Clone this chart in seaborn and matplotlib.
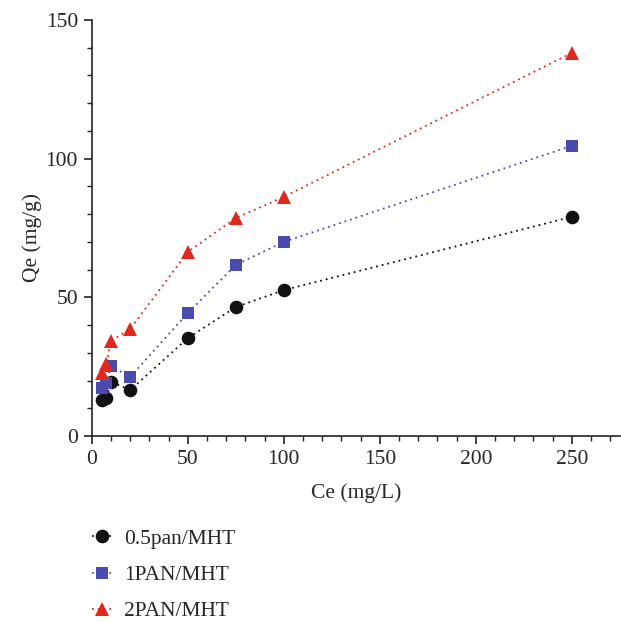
import matplotlib
matplotlib.use("Agg")
import matplotlib.pyplot as plt
import seaborn as sns
import pandas as pd
from matplotlib.ticker import MultipleLocator

ce = [5, 7.5, 10, 20, 50, 75, 100, 250]
q_05pan = [13.0, 13.7, 19.5, 16.6, 35.3, 46.5, 52.6, 79.0]
q_1pan = [17.3, 19.0, 25.2, 21.3, 44.4, 61.7, 70.0, 104.6]
q_2pan = [22.7, 26.0, 34.3, 38.6, 66.4, 78.6, 86.2, 138.1]
labels = ["0.5pan/MHT", "1PAN/MHT", "2PAN/MHT"]

sns.set_style("ticks")
plt.rcParams["font.family"] = ["Liberation Serif", "DejaVu Serif"]

FS = 15.5
fig = plt.figure(figsize=(6.21, 6.22), dpi=100)
ax = fig.add_axes([0.148, 0.299, 0.85, 0.669])

series = [(q_05pan, "#111111", "o", 9.8),
          (q_1pan, "#4B4BAF", "s", 8.8),
          (q_2pan, "#E0281E", "^", 10.0)]
for (vals, col, mk, ms), lab in zip(series, labels):
    df = pd.DataFrame({"Ce": ce, "Qe": vals})
    sns.lineplot(data=df, x="Ce", y="Qe", ax=ax, color=col, marker=mk,
                 markersize=ms, linestyle=(0, (1, 2.2)), linewidth=1.3,
                 markeredgewidth=0, label=lab, legend=False)

ax.set_xlim(0, 275)
ax.set_ylim(0, 150)
ax.xaxis.set_major_locator(MultipleLocator(50))
ax.xaxis.set_minor_locator(MultipleLocator(10))
ax.yaxis.set_major_locator(MultipleLocator(50))
ax.yaxis.set_minor_locator(MultipleLocator(10))
ax.tick_params(which="major", direction="out", length=6, width=1.2, labelsize=FS,
               color="#222222", pad=4)
ax.tick_params(which="minor", direction="out", length=3.5, width=1.0, color="#222222")
for s in ["top", "right"]:
    ax.spines[s].set_visible(False)
for s in ["left", "bottom"]:
    ax.spines[s].set_linewidth(1.2)
    ax.spines[s].set_color("#222222")
ax.set_xlabel("Ce (mg/L)", fontsize=FS, labelpad=10)
ax.set_ylabel("Qe (mg/g)", fontsize=FS)
ax.yaxis.set_label_coords(-0.095, 0.478)

h, l = ax.get_legend_handles_labels()
fig.legend(h, l, loc="upper left", bbox_to_anchor=(0.117, 0.181), frameon=False,
           fontsize=FS, handlelength=0.9, handletextpad=0.6, labelspacing=0.75)

fig.savefig("out.png", dpi=100)
